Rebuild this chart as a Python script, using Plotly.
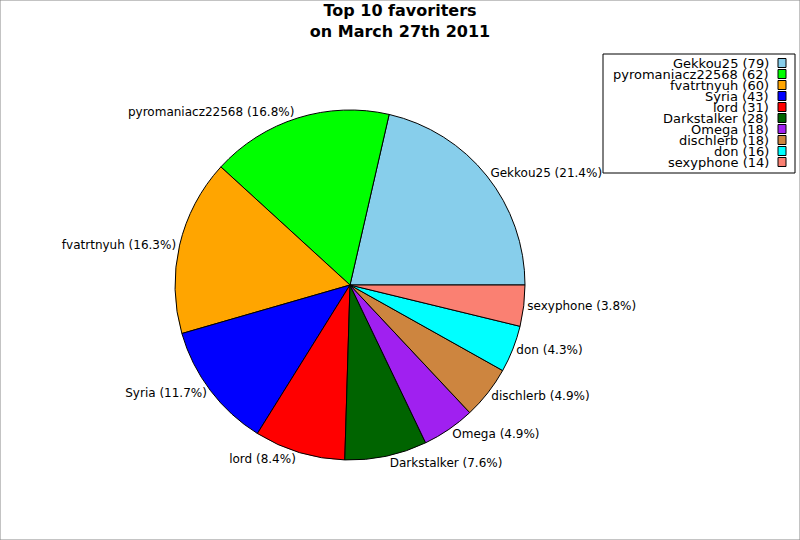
import plotly.graph_objects as go

# top 10 favoriters, counts
names = ['Gekkou25', 'pyromaniacz22568', 'fvatrtnyuh', 'Syria', 'lord',
         'Darkstalker', 'Omega', 'dischlerb', 'don', 'sexyphone']
counts = [79, 62, 60, 43, 31, 28, 18, 18, 16, 14]
colors = ['#87CEEB', '#00FF00', '#FFA500', '#0000FF', '#FF0000',
          '#006400', '#A020F0', '#CD853F', '#00FFFF', '#FA8072']

W, H = 800, 540
font = 'DejaVu Sans, Verdana, sans-serif'

# plotly puts the first slice's far edge at `rotation` when going counterclockwise,
# so turn it back by the first slice so Gekkou25 starts at 3 o'clock
first_deg = 360 * counts[0] / sum(counts)

fig = go.Figure(go.Pie(
    labels=names, values=counts, sort=False,
    direction='counterclockwise', rotation=90 - first_deg,
    marker=dict(colors=colors, line=dict(color='black', width=1)),
    texttemplate='%{label} (%{percent:.1%})',
    textposition='outside',
    textfont=dict(family=font, size=12, color='black'),
    domain=dict(x=[175 / W, 525 / W], y=[1 - 460 / H, 1 - 110 / H]),
    showlegend=False, hoverinfo='label+value+percent',
))

# legend box: text right-aligned, colour square on the right
shapes = [dict(type='rect', xref='paper', yref='paper',
               x0=603 / W, x1=795 / W, y0=1 - 173 / H, y1=1 - 54 / H,
               line=dict(color='black', width=1), fillcolor='white', layer='below'),
          dict(type='rect', xref='paper', yref='paper', x0=0, x1=1, y0=0, y1=1,
               line=dict(color='#888888', width=1))]
annotations = []
for i, (n, c, col) in enumerate(zip(names, counts, colors)):
    yc = 63 + i * 11
    annotations.append(dict(text=f'{n} ({c})', x=771 / W, y=1 - yc / H,
                            xref='paper', yref='paper', xanchor='right', yanchor='middle',
                            showarrow=False, font=dict(family=font, size=13, color='black')))
    shapes.append(dict(type='rect', xref='paper', yref='paper',
                       x0=778 / W, x1=786 / W, y0=1 - (yc + 4.5) / H, y1=1 - (yc - 4.5) / H,
                       line=dict(color='black', width=1), fillcolor=col))

fig.update_layout(
    width=W, height=H,
    margin=dict(l=0, r=0, t=0, b=0),
    paper_bgcolor='white', plot_bgcolor='white',
    title=dict(text='<b>Top 10 favoriters<br>on March 27th 2011</b>',
               x=0.5, xanchor='center', y=1 - 16 / H, yanchor='top',
               font=dict(family=font, size=16, color='black')),
    shapes=shapes, annotations=annotations,
)

fig.write_html('out.html', config={'displayModeBar': False},
               post_script="document.body.style.margin='0';")
